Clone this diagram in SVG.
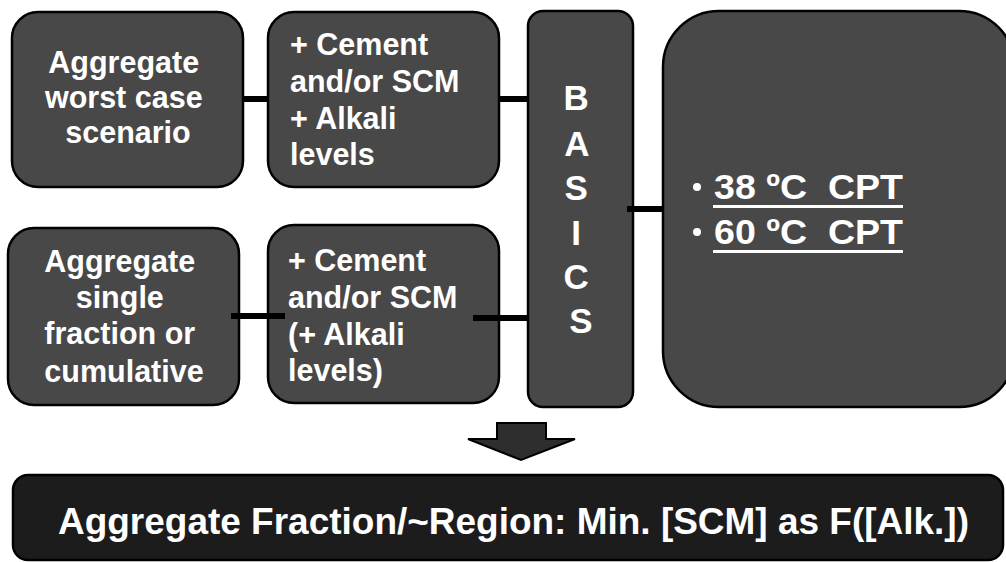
<svg xmlns="http://www.w3.org/2000/svg" width="1006" height="562" viewBox="0 0 1006 562">
  <style>
    .box { fill: #484848; stroke: #000; stroke-width: 2.5; }
    .dark { fill: #1c1c1c; stroke: #000; stroke-width: 2.5; }
    .t { font-family: "Liberation Sans", Arial, sans-serif; font-weight: bold; fill: #fff; }
    .c { text-anchor: middle; }
    .link { stroke: #000; stroke-width: 6; fill: none; }
    .ul { stroke: #fff; stroke-width: 3; }
  </style>
  <rect width="1006" height="562" fill="#fff"/>

  <g id="worst-case">
    <rect class="box" x="12" y="12" width="231" height="175" rx="26"/>
    <text class="t c" font-size="30.5">
      <tspan x="128" y="73">Aggregate</tspan>
      <tspan x="128" y="108">worst case</tspan>
      <tspan x="128" y="143">scenario</tspan>
    </text>
  </g>

  <g id="cement-top">
    <rect class="box" x="268" y="12" width="231" height="175" rx="26"/>
    <text class="t" font-size="30.5">
      <tspan x="290" y="55">+ Cement</tspan>
      <tspan x="290" y="92">and/or SCM</tspan>
      <tspan x="290" y="129">+ Alkali</tspan>
      <tspan x="290" y="165">levels</tspan>
    </text>
  </g>

  <g id="single-fraction">
    <rect class="box" x="8" y="228" width="231" height="177" rx="26"/>
    <text class="t c" font-size="30.5">
      <tspan x="124" y="272">Aggregate</tspan>
      <tspan x="124" y="308">single</tspan>
      <tspan x="124" y="344">fraction or</tspan>
      <tspan x="124" y="382">cumulative</tspan>
    </text>
  </g>

  <g id="cement-bottom">
    <rect class="box" x="268" y="225" width="231" height="178" rx="26"/>
    <text class="t" font-size="30.5">
      <tspan x="288" y="271">+ Cement</tspan>
      <tspan x="288" y="308">and/or SCM</tspan>
      <tspan x="288" y="345">(+ Alkali</tspan>
      <tspan x="288" y="381">levels)</tspan>
    </text>
  </g>

  <g id="basics">
    <rect class="box" x="528" y="11" width="105" height="396" rx="15"/>
    <text class="t c" font-size="35">
      <tspan x="581" y="110">B</tspan>
      <tspan x="581" y="156">A</tspan>
      <tspan x="581" y="200">S</tspan>
      <tspan x="581" y="245">I</tspan>
      <tspan x="581" y="289">C</tspan>
      <tspan x="581" y="333">S</tspan>
    </text>
  </g>

  <g id="cpt">
    <rect class="box" x="663" y="11" width="352" height="396" rx="56"/>
    <circle cx="697" cy="187" r="4" fill="#fff"/>
    <circle cx="697" cy="232" r="4" fill="#fff"/>
    <text class="t" font-size="35" xml:space="preserve" x="714" y="199" textLength="189" lengthAdjust="spacingAndGlyphs">38 ºC  CPT</text>
    <text class="t" font-size="35" xml:space="preserve" x="714" y="244" textLength="189" lengthAdjust="spacingAndGlyphs">60 ºC  CPT</text>
    <line class="ul" x1="713" y1="206.5" x2="903" y2="206.5"/>
    <line class="ul" x1="713" y1="251.5" x2="903" y2="251.5"/>
  </g>

  <g id="connectors">
    <line class="link" x1="243" y1="99" x2="268" y2="99"/>
    <line class="link" x1="499" y1="99" x2="528" y2="99"/>
    <line class="link" x1="231" y1="316" x2="285" y2="316"/>
    <line class="link" x1="473" y1="318" x2="528" y2="318"/>
    <line class="link" x1="627" y1="209" x2="663" y2="209"/>
  </g>

  <g id="down-arrow">
    <polygon points="497,423 546,423 546,439 575,439 521,460 468,439 497,439" fill="#2e2e2e" stroke="#000" stroke-width="2" stroke-linejoin="miter"/>
  </g>

  <g id="result">
    <rect class="dark" x="13" y="475" width="990" height="85" rx="15"/>
    <text class="t" font-size="37" x="58" y="534" textLength="911" lengthAdjust="spacingAndGlyphs">Aggregate Fraction/~Region: Min. [SCM] as F([Alk.])</text>
  </g>
</svg>
